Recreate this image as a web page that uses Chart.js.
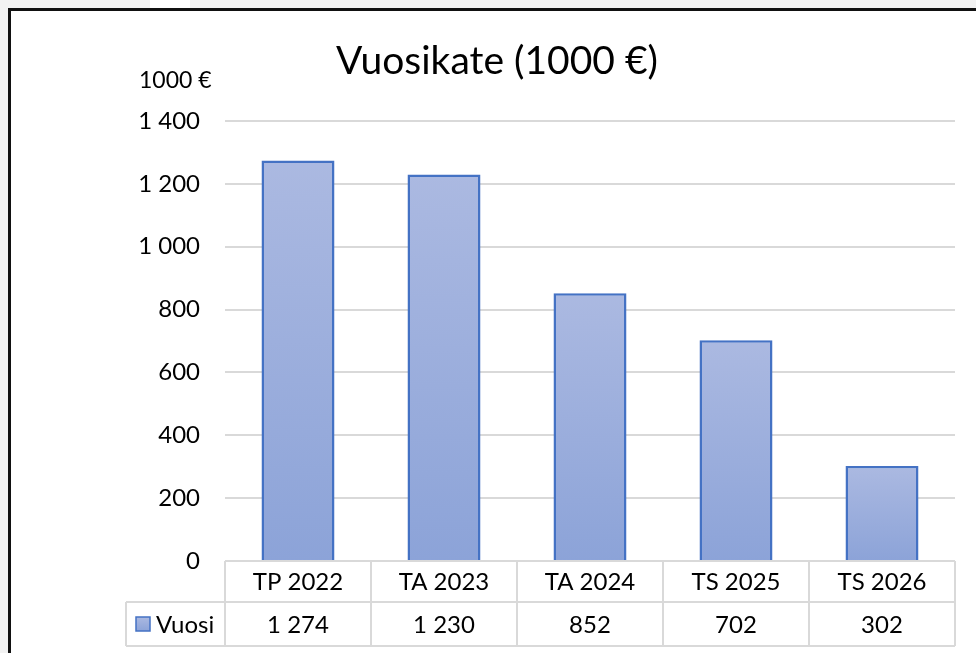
<!DOCTYPE html>
<html>
<head>
<meta charset="utf-8">
<script src="https://cdn.jsdelivr.net/npm/chart.js@4"></script>
<style>
  html, body { margin: 0; padding: 0; background: #f2f2f2; width: 976px; height: 653px; overflow: hidden; }
  .patch { position: absolute; left: 150px; top: 0; width: 40px; height: 8px; background: #fff; }
  .frame { position: absolute; left: 8px; top: 8px; width: 970px; height: 650px; border-left: 3px solid #111; border-top: 3px solid #111; background: #fff; }
  canvas { position: absolute; left: 0; top: 0; }
</style>
</head>
<body>
<div class="patch"></div>
<div class="frame"><canvas id="chart" width="965" height="642"></canvas></div>
<script>
const categories = ['TP 2022', 'TA 2023', 'TA 2024', 'TS 2025', 'TS 2026'];
const values = [1274, 1230, 852, 702, 302];
const seriesName = 'Vuosi';
const chartTitle = 'Vuosikate (1000 €)';
const unitLabel = '1000 €';

const FONT = 'Lato, "Open Sans", sans-serif';
const fmt = v => String(v).replace(/\B(?=(\d{3})+(?!\d))/g, ' ');

function barGradient(ctx, top, bottom) {
  const g = ctx.createLinearGradient(0, top, 0, bottom);
  g.addColorStop(0, '#abb9e1');
  g.addColorStop(1, '#8ca3d8');
  return g;
}

// title, unit label and the data table under the bars
const extras = {
  id: 'extras',
  afterDraw(chart) {
    const ctx = chart.ctx;
    const x = chart.scales.x;
    const area = chart.chartArea;
    const cell = (area.right - area.left) / categories.length;
    const top = area.bottom, mid = top + 41, bot = top + 85;
    const legendLeft = 115;

    ctx.save();
    ctx.fillStyle = '#000';
    ctx.textAlign = 'center';
    ctx.textBaseline = 'middle';
    ctx.font = '39px ' + FONT;
    ctx.fillText(chartTitle, 486, 50);

    ctx.textAlign = 'left';
    ctx.font = '23px ' + FONT;
    ctx.fillText(unitLabel, 128, 70);

    ctx.strokeStyle = '#d9d9d9';
    ctx.lineWidth = 2;
    ctx.beginPath();
    ctx.moveTo(area.left, top); ctx.lineTo(area.right, top);
    ctx.moveTo(legendLeft, mid); ctx.lineTo(area.right, mid);
    ctx.moveTo(legendLeft, bot); ctx.lineTo(area.right, bot);
    ctx.moveTo(legendLeft, mid); ctx.lineTo(legendLeft, bot);
    for (let i = 0; i <= categories.length; i++) {
      const px = area.left + i * cell;
      ctx.moveTo(px, top); ctx.lineTo(px, bot);
    }
    ctx.stroke();

    ctx.font = '24px ' + FONT;
    ctx.textAlign = 'center';
    categories.forEach((c, i) => {
      const px = x.getPixelForValue(i);
      ctx.fillText(c, px, (top + mid) / 2 + 1);
      ctx.fillText(fmt(values[i]), px, (mid + bot) / 2 + 1);
    });

    // legend key
    const ky = (mid + bot) / 2 - 7;
    ctx.fillStyle = barGradient(ctx, ky, ky + 14);
    ctx.fillRect(125, ky, 14, 14);
    ctx.strokeStyle = '#4472c4';
    ctx.lineWidth = 1.5;
    ctx.strokeRect(125, ky, 14, 14);
    ctx.fillStyle = '#000';
    ctx.textAlign = 'left';
    ctx.fillText(seriesName, 145, (mid + bot) / 2 + 1);
    ctx.restore();
  }
};

new Chart(document.getElementById('chart'), {
  type: 'bar',
  data: {
    labels: categories,
    datasets: [{
      label: seriesName,
      data: values,
      backgroundColor: (c) => {
        const chart = c.chart;
        if (!chart.chartArea || c.parsed == null) return '#9caedc';
        const y = chart.scales.y;
        return barGradient(chart.ctx, y.getPixelForValue(c.parsed.y), y.getPixelForValue(0));
      },
      borderColor: '#4472c4',
      borderWidth: 2.5,
      borderSkipped: 'start',
      categoryPercentage: 1,
      barPercentage: 0.5
    }]
  },
  options: {
    responsive: false,
    animation: false,
    layout: { padding: { top: 110, right: 21, bottom: 92, left: 0 } },
    plugins: { legend: { display: false }, tooltip: { enabled: false }, title: { display: false } },
    scales: {
      x: { display: false },
      y: {
        min: 0, max: 1400,
        afterFit: (s) => { s.width = 214; },
        border: { display: false },
        grid: { color: '#d9d9d9', lineWidth: 2, drawTicks: false },
        ticks: {
          stepSize: 200, padding: 25, color: '#000',
          font: { family: FONT, size: 24 },
          callback: (v) => fmt(v)
        }
      }
    }
  },
  plugins: [extras]
});
</script>
</body>
</html>
